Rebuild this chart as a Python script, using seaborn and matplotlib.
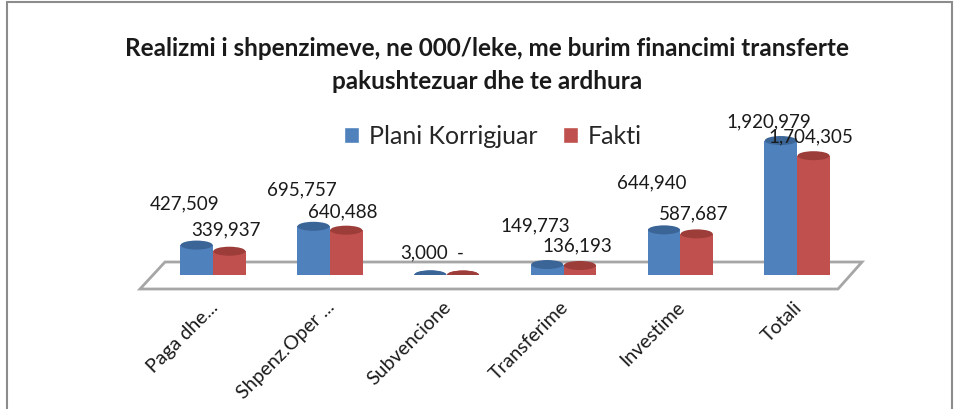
import matplotlib
matplotlib.use("Agg")
import matplotlib.pyplot as plt
import matplotlib.transforms as mtransforms
from matplotlib.patches import Polygon, Rectangle, Ellipse
import seaborn as sns
import pandas as pd

categories = ["Paga dhe...", "Shpenz.Oper ...", "Subvencione", "Transferime", "Investime", "Totali"]
plani = [427509, 695757, 3000, 149773, 644940, 1920979]
fakti = [339937, 640488, 0, 136193, 587687, 1704305]
plani_labels = ["427,509", "695,757", "3,000", "149,773", "644,940", "1,920,979"]
fakti_labels = ["339,937", "640,488", "-", "136,193", "587,687", "1,704,305"]
series = ["Plani Korrigjuar", "Fakti"]
title_lines = ["Realizmi i shpenzimeve, ne 000/leke, me burim financimi transferte",
               "pakushtezuar dhe te ardhura"]

# label vertical offsets in pixels (layout only)
plani_off = [42, 37, 23, 40, 48, 20]
fakti_off = [22, 19, 23, 21, 21, 20]

df = pd.DataFrame({
    "cat": categories * 2,
    "val": plani + fakti,
    "series": [series[0]] * len(categories) + [series[1]] * len(categories),
})

sns.set_theme(style="white")
plt.rcParams["font.family"] = ["Lato", "DejaVu Sans"]

W, H = 955, 410
fig = plt.figure(figsize=(W / 100, H / 100), dpi=100)

def fx(px):
    return px / W

def fy(py):
    return 1 - py / H

# frame border (no bottom edge visible)
fig.patches.append(Rectangle((fx(7), fy(420)), fx(945), fy(3) - fy(420),
                             transform=fig.transFigure, fill=False,
                             edgecolor="#8c8c8c", lw=1.5))

# 3D floor (decoration)
floor = Polygon([(fx(140), fy(290)), (fx(165), fy(263)), (fx(862), fy(263)), (fx(838), fy(290))],
                closed=True, transform=fig.transFigure, facecolor="white",
                edgecolor="#a6a6a6", lw=2.0, zorder=0)
fig.patches.append(floor)

ax = fig.add_axes([fx(154.6), fy(276), fx(701), fy(136) - fy(276)])
ax.patch.set_alpha(0)
ax.set_zorder(2)

palette = {series[0]: "#4F81BD", series[1]: "#C0504D"}
caps = {series[0]: "#3B6597", series[1]: "#9C3D3A"}
sns.barplot(data=df, x="cat", y="val", hue="series", palette=palette, ax=ax,
            width=0.56, gap=0.0, saturation=1, legend=False, edgecolor="none")

ymax = 2.0e6
ax.set_ylim(0, ymax)
ax.set_xlim(-0.5, len(categories) - 0.5)
for s in ax.spines.values():
    s.set_visible(False)
ax.set_yticks([])
ax.set_xlabel("")
ax.set_ylabel("")

px_per_unit = 140 / ymax
cap_h = 9 / px_per_unit

conts = ax.containers
for k, (bars, labels, offs) in enumerate([(conts[0], plani_labels, plani_off),
                                          (conts[1], fakti_labels, fakti_off)]):
    col = palette[series[k]]
    ccol = caps[series[k]]
    for i, (b, lab) in enumerate(zip(bars, labels)):
        xc = b.get_x() + b.get_width() / 2
        h = b.get_height()
        bw = b.get_width() * 0.98
        # cylinder bottom and top caps
        ax.add_patch(Ellipse((xc, 0), bw, cap_h, facecolor=col, edgecolor="none", zorder=1.5))
        ax.add_patch(Ellipse((xc, h), bw, cap_h, facecolor=ccol, edgecolor="none", zorder=2.5))
        dx = -12 if k == 0 else -3
        if k == 0 and i == 2:
            dx = -6
        ax.annotate(lab, (xc, h), xytext=(dx, offs[i]),
                    textcoords="offset pixels", ha="center", va="center",
                    fontsize=13.5, color="#1a1a1a", zorder=5)

ax.tick_params(axis="x", length=0, pad=16)
ax.set_xticks(range(len(categories)))
ax.set_xticklabels(categories, rotation=45, ha="right", rotation_mode="anchor",
                   fontsize=14, color="#1a1a1a")
shift = mtransforms.ScaledTranslation(-4 / 100, 0, fig.dpi_scale_trans)
for t in ax.get_xticklabels():
    t.set_transform(t.get_transform() + shift)

fig.text(fx(487), fy(48), title_lines[0], ha="center", va="center",
         fontsize=17.5, fontweight="bold", color="#1a1a1a")
fig.text(fx(487), fy(82), title_lines[1], ha="center", va="center",
         fontsize=17.5, fontweight="bold", color="#1a1a1a")

handles = [Rectangle((0, 0), 1, 1, facecolor=palette[s]) for s in series]
fig.legend(handles, series, loc="center", bbox_to_anchor=(fx(493), fy(137)),
           ncol=2, frameon=False, fontsize=18, handlelength=0.6, handleheight=0.6,
           handletextpad=0.4, columnspacing=1.0)

fig.savefig("out.png", dpi=100)
